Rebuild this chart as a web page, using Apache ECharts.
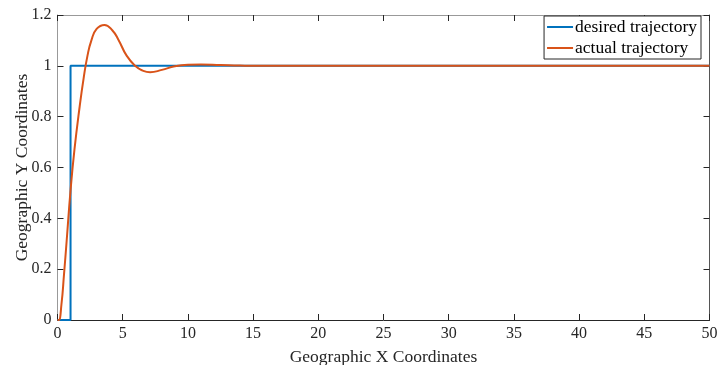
<!DOCTYPE html>
<html>
<head>
<meta charset="utf-8">
<script src="https://cdn.jsdelivr.net/npm/echarts@6/dist/echarts.min.js"></script>
<style>
  html, body { margin: 0; padding: 0; background: #fff; }
  #chart { width: 717px; height: 365px; }
</style>
</head>
<body>
<div id="chart"></div>
<script>
// desired trajectory: step at x = 1
const desiredX = [0, 1, 1, 50];
const desiredY = [0, 0, 1, 1];
// actual trajectory
const actualX = [0, 0.1, 0.3, 0.5, 0.7, 1.0, 1.3, 1.7, 2.0, 2.3, 2.6, 3.0, 3.6, 4.2, 4.7, 5.3, 6.0, 6.5, 7.1, 8.0, 9.0, 10, 11, 12.5, 14, 16, 50];
const actualY = [0, 0, 0.06, 0.18, 0.31, 0.51, 0.67, 0.84, 0.95, 1.04, 1.1, 1.145, 1.161, 1.14, 1.1, 1.04, 0.998, 0.982, 0.975, 0.984, 0.998, 1.004, 1.005, 1.003, 1.001, 1.0, 1.0];
const seriesNames = ["desired trajectory", "actual trajectory"];

const font = "Liberation Serif";
const chart = echarts.init(document.getElementById("chart"));

const zip = (xs, ys) => xs.map((x, i) => [x, ys[i]]);

const tickStyle = { show: true, inside: true, length: 6, lineStyle: { color: "#262626", width: 1 } };

chart.setOption({
  animation: false,
  grid: { left: 57.5, right: 7.5, top: 15, bottom: 45, outerBoundsMode: "none", containLabel: false },
  legend: {
    right: 16,
    top: 16,
    orient: "vertical",
    backgroundColor: "#fff",
    borderColor: "#262626",
    borderWidth: 1,
    borderRadius: 0,
    padding: [2, 4, 2, 3],
    itemGap: 3,
    itemWidth: 26,
    itemHeight: 2,
    icon: "rect",
    textStyle: { fontFamily: font, fontSize: 17.5, color: "#000", padding: [0, 0, 0, -3] },
    data: seriesNames
  },
  xAxis: [
    {
      type: "value",
      min: 0, max: 50, interval: 5,
      position: "bottom",
      name: "Geographic X Coordinates",
      nameLocation: "middle",
      nameGap: 28,
      nameMoveOverlap: false,
      nameTextStyle: { fontFamily: font, fontSize: 17.5, color: "#262626" },
      axisLine: { show: true, onZero: false, lineStyle: { color: "#262626", width: 1 } },
      axisTick: tickStyle,
      axisLabel: { fontFamily: font, fontSize: 16, color: "#262626", margin: 6 },
      splitLine: { show: false }
    },
    {
      type: "value",
      min: 0, max: 50, interval: 5,
      position: "top",
      axisLine: { show: true, onZero: false, lineStyle: { color: "#999", width: 1 } },
      axisTick: tickStyle,
      axisLabel: { show: false },
      splitLine: { show: false }
    }
  ],
  yAxis: [
    {
      type: "value",
      min: 0, max: 1.2, interval: 0.2,
      position: "left",
      name: "Geographic Y Coordinates",
      nameLocation: "middle",
      nameGap: 26,
      nameMoveOverlap: false,
      nameTextStyle: { fontFamily: font, fontSize: 17.5, color: "#262626" },
      axisLine: { show: true, onZero: false, lineStyle: { color: "#999", width: 1 } },
      axisTick: tickStyle,
      axisLabel: { fontFamily: font, fontSize: 16, color: "#262626", margin: 6 },
      splitLine: { show: false }
    },
    {
      type: "value",
      min: 0, max: 1.2, interval: 0.2,
      position: "right",
      axisLine: { show: true, onZero: false, lineStyle: { color: "#555", width: 1 } },
      axisTick: tickStyle,
      axisLabel: { show: false },
      splitLine: { show: false }
    }
  ],
  series: [
    {
      name: seriesNames[0],
      type: "line",
      data: zip(desiredX, desiredY),
      showSymbol: false,
      lineStyle: { color: "#0072BD", width: 2 },
      itemStyle: { color: "#0072BD" }
    },
    {
      name: seriesNames[1],
      type: "line",
      data: zip(actualX, actualY),
      smooth: 0.5,
      showSymbol: false,
      lineStyle: { color: "#D95319", width: 2 },
      itemStyle: { color: "#D95319" }
    }
  ]
});
</script>
</body>
</html>
